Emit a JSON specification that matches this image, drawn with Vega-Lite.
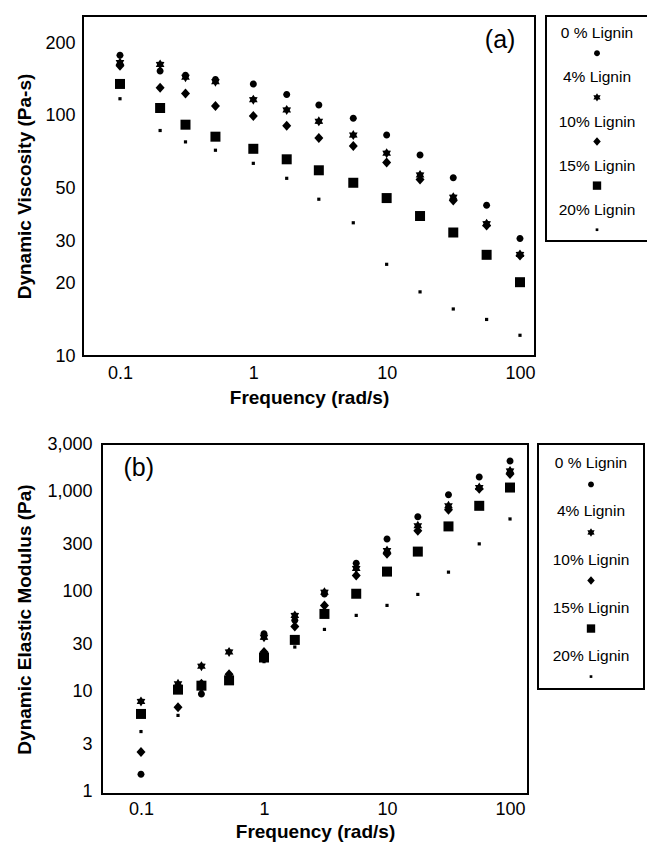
{
  "$schema": "https://vega.github.io/schema/vega-lite/v6.json",
  "padding": {"left": 5, "top": 15, "right": 0, "bottom": 0},
  "background": "white",
  "config": {
    "font": "Liberation Sans",
    "view": {"stroke": "black", "strokeWidth": 2},
    "axis": {"domain": false, "ticks": false, "grid": false, "labelFont": "Liberation Sans", "titleFont": "Liberation Sans", "labelFontSize": 18, "labelColor": "black", "titleFontSize": 19, "titleFontWeight": "bold", "titleColor": "black", "labelPadding": 8, "titlePadding": 6},
    "text": {"font": "Liberation Sans", "color": "black"},
    "point": {"size": 100, "filled": true, "opacity": 1, "color": "black"}
  },
  "datasets": {
    "visc": [
      {"f": 0.1, "s": "0 % Lignin", "v": 179}, {"f": 0.2, "s": "0 % Lignin", "v": 154}, {"f": 0.31, "s": "0 % Lignin", "v": 148}, {"f": 0.52, "s": "0 % Lignin", "v": 142}, {"f": 1, "s": "0 % Lignin", "v": 136}, {"f": 1.78, "s": "0 % Lignin", "v": 123}, {"f": 3.1, "s": "0 % Lignin", "v": 111}, {"f": 5.62, "s": "0 % Lignin", "v": 97.8}, {"f": 10, "s": "0 % Lignin", "v": 83.3}, {"f": 17.8, "s": "0 % Lignin", "v": 68.8}, {"f": 31.6, "s": "0 % Lignin", "v": 55.3}, {"f": 56.2, "s": "0 % Lignin", "v": 42.5}, {"f": 100, "s": "0 % Lignin", "v": 30.9},
      {"f": 0.1, "s": "4% Lignin", "v": 167}, {"f": 0.2, "s": "4% Lignin", "v": 164}, {"f": 0.31, "s": "4% Lignin", "v": 145}, {"f": 0.52, "s": "4% Lignin", "v": 139}, {"f": 1, "s": "4% Lignin", "v": 117}, {"f": 1.78, "s": "4% Lignin", "v": 106}, {"f": 3.1, "s": "4% Lignin", "v": 95}, {"f": 5.62, "s": "4% Lignin", "v": 83.3}, {"f": 10, "s": "4% Lignin", "v": 70}, {"f": 17.8, "s": "4% Lignin", "v": 56.8}, {"f": 31.6, "s": "4% Lignin", "v": 45.9}, {"f": 56.2, "s": "4% Lignin", "v": 35.6}, {"f": 100, "s": "4% Lignin", "v": 26.5},
      {"f": 0.1, "s": "10% Lignin", "v": 162}, {"f": 0.2, "s": "10% Lignin", "v": 131}, {"f": 0.31, "s": "10% Lignin", "v": 124}, {"f": 0.52, "s": "10% Lignin", "v": 110}, {"f": 1, "s": "10% Lignin", "v": 100}, {"f": 1.78, "s": "10% Lignin", "v": 91}, {"f": 3.1, "s": "10% Lignin", "v": 81}, {"f": 5.62, "s": "10% Lignin", "v": 75}, {"f": 10, "s": "10% Lignin", "v": 64}, {"f": 17.8, "s": "10% Lignin", "v": 54.4}, {"f": 31.6, "s": "10% Lignin", "v": 44.5}, {"f": 56.2, "s": "10% Lignin", "v": 35}, {"f": 100, "s": "10% Lignin", "v": 26.2},
      {"f": 0.1, "s": "15% Lignin", "v": 136}, {"f": 0.2, "s": "15% Lignin", "v": 108}, {"f": 0.31, "s": "15% Lignin", "v": 92}, {"f": 0.52, "s": "15% Lignin", "v": 82}, {"f": 1, "s": "15% Lignin", "v": 73}, {"f": 1.78, "s": "15% Lignin", "v": 66}, {"f": 3.1, "s": "15% Lignin", "v": 59.4}, {"f": 5.62, "s": "15% Lignin", "v": 52.7}, {"f": 10, "s": "15% Lignin", "v": 45.5}, {"f": 17.8, "s": "15% Lignin", "v": 38.3}, {"f": 31.6, "s": "15% Lignin", "v": 32.7}, {"f": 56.2, "s": "15% Lignin", "v": 26.4}, {"f": 100, "s": "15% Lignin", "v": 20.3},
      {"f": 0.1, "s": "20% Lignin", "v": 118}, {"f": 0.2, "s": "20% Lignin", "v": 87}, {"f": 0.31, "s": "20% Lignin", "v": 78}, {"f": 0.52, "s": "20% Lignin", "v": 72}, {"f": 1, "s": "20% Lignin", "v": 63.5}, {"f": 1.78, "s": "20% Lignin", "v": 55}, {"f": 3.1, "s": "20% Lignin", "v": 45}, {"f": 5.62, "s": "20% Lignin", "v": 35.9}, {"f": 10, "s": "20% Lignin", "v": 24.1}, {"f": 17.8, "s": "20% Lignin", "v": 18.5}, {"f": 31.6, "s": "20% Lignin", "v": 15.7}, {"f": 56.2, "s": "20% Lignin", "v": 14.2}, {"f": 100, "s": "20% Lignin", "v": 12.2}
    ],
    "mod": [
      {"f": 0.1, "s": "0 % Lignin", "v": 1.5}, {"f": 0.2, "s": "0 % Lignin", "v": 11}, {"f": 0.31, "s": "0 % Lignin", "v": 9.5}, {"f": 0.52, "s": "0 % Lignin", "v": 14}, {"f": 1, "s": "0 % Lignin", "v": 38}, {"f": 1.78, "s": "0 % Lignin", "v": 52}, {"f": 3.1, "s": "0 % Lignin", "v": 95}, {"f": 5.62, "s": "0 % Lignin", "v": 193}, {"f": 10, "s": "0 % Lignin", "v": 337}, {"f": 17.8, "s": "0 % Lignin", "v": 562}, {"f": 31.6, "s": "0 % Lignin", "v": 931}, {"f": 56.2, "s": "0 % Lignin", "v": 1407}, {"f": 100, "s": "0 % Lignin", "v": 2030},
      {"f": 0.1, "s": "4% Lignin", "v": 8}, {"f": 0.2, "s": "4% Lignin", "v": 12}, {"f": 0.31, "s": "4% Lignin", "v": 18}, {"f": 0.52, "s": "4% Lignin", "v": 25}, {"f": 1, "s": "4% Lignin", "v": 35}, {"f": 1.78, "s": "4% Lignin", "v": 58}, {"f": 3.1, "s": "4% Lignin", "v": 99}, {"f": 5.62, "s": "4% Lignin", "v": 171}, {"f": 10, "s": "4% Lignin", "v": 258}, {"f": 17.8, "s": "4% Lignin", "v": 457}, {"f": 31.6, "s": "4% Lignin", "v": 723}, {"f": 56.2, "s": "4% Lignin", "v": 1101}, {"f": 100, "s": "4% Lignin", "v": 1615},
      {"f": 0.1, "s": "10% Lignin", "v": 2.5}, {"f": 0.2, "s": "10% Lignin", "v": 7}, {"f": 0.31, "s": "10% Lignin", "v": 12}, {"f": 0.52, "s": "10% Lignin", "v": 15}, {"f": 1, "s": "10% Lignin", "v": 25}, {"f": 1.78, "s": "10% Lignin", "v": 45}, {"f": 3.1, "s": "10% Lignin", "v": 73}, {"f": 5.62, "s": "10% Lignin", "v": 145}, {"f": 10, "s": "10% Lignin", "v": 240}, {"f": 17.8, "s": "10% Lignin", "v": 407}, {"f": 31.6, "s": "10% Lignin", "v": 660}, {"f": 56.2, "s": "10% Lignin", "v": 1069}, {"f": 100, "s": "10% Lignin", "v": 1507},
      {"f": 0.1, "s": "15% Lignin", "v": 6}, {"f": 0.2, "s": "15% Lignin", "v": 10.5}, {"f": 0.31, "s": "15% Lignin", "v": 11.5}, {"f": 0.52, "s": "15% Lignin", "v": 13}, {"f": 1, "s": "15% Lignin", "v": 22}, {"f": 1.78, "s": "15% Lignin", "v": 33}, {"f": 3.1, "s": "15% Lignin", "v": 60}, {"f": 5.62, "s": "15% Lignin", "v": 95.5}, {"f": 10, "s": "15% Lignin", "v": 159}, {"f": 17.8, "s": "15% Lignin", "v": 252}, {"f": 31.6, "s": "15% Lignin", "v": 450}, {"f": 56.2, "s": "15% Lignin", "v": 723}, {"f": 100, "s": "15% Lignin", "v": 1101},
      {"f": 0.1, "s": "20% Lignin", "v": 4}, {"f": 0.2, "s": "20% Lignin", "v": 5.8}, {"f": 0.31, "s": "20% Lignin", "v": 10}, {"f": 0.52, "s": "20% Lignin", "v": 13}, {"f": 1, "s": "20% Lignin", "v": 20}, {"f": 1.78, "s": "20% Lignin", "v": 28}, {"f": 3.1, "s": "20% Lignin", "v": 42}, {"f": 5.62, "s": "20% Lignin", "v": 58}, {"f": 10, "s": "20% Lignin", "v": 73}, {"f": 17.8, "s": "20% Lignin", "v": 94}, {"f": 31.6, "s": "20% Lignin", "v": 157}, {"f": 56.2, "s": "20% Lignin", "v": 301}, {"f": 100, "s": "20% Lignin", "v": 534}
    ],
    "labA": [{"f": 71, "v": 207, "label": "(a)"}],
    "labB": [{"f": 0.096, "v": 1730, "label": "(b)"}],
    "legend": [{"s": "0 % Lignin"}, {"s": "4% Lignin"}, {"s": "10% Lignin"}, {"s": "15% Lignin"}, {"s": "20% Lignin"}],
    "blank": [{"t": ""}]
  },
  "spacing": 26,
  "vconcat": [
    {
      "spacing": 8,
      "hconcat": [
        {"width": 1, "height": 340, "view": {"stroke": null}, "data": {"name": "blank"}, "mark": {"type": "text"}, "encoding": {"text": {"field": "t"}}},
        {
          "width": 452, "height": 340,
          "layer": [
            {
              "data": {"name": "visc"},
              "mark": {"type": "point"},
              "encoding": {
                "x": {"field": "f", "type": "quantitative", "scale": {"type": "log", "domain": [0.0528, 129.6], "nice": false}, "axis": {"values": [0.1, 1, 10, 100], "format": "~g", "title": "Frequency (rad/s)"}},
                "y": {"field": "v", "type": "quantitative", "scale": {"type": "log", "domain": [10, 261], "nice": false}, "axis": {"values": [10, 20, 30, 50, 100, 200], "format": "~g", "title": "Dynamic Viscosity (Pa-s)", "titlePadding": 10}},
                "shape": {"field": "s", "type": "nominal", "scale": {"domain": ["0 % Lignin", "4% Lignin", "10% Lignin", "15% Lignin", "20% Lignin"], "range": ["M0.7,0A0.7,0.7 0 1,1 -0.7,0A0.7,0.7 0 1,1 0.7,0Z", "M0,-1L0.3,-0.52L0.866,-0.5L0.6,0L0.866,0.5L0.3,0.52L0,1L-0.3,0.52L-0.866,0.5L-0.6,0L-0.866,-0.5L-0.3,-0.52Z", "M0,-1L0.9,0L0,1L-0.9,0Z", "M-1,-1L1,-1L1,1L-1,1Z", "M-0.32,-0.32L0.32,-0.32L0.32,0.32L-0.32,0.32Z"]}, "legend": null}
              }
            },
            {
              "data": {"name": "labA"},
              "mark": {"type": "text", "fontSize": 25, "align": "center", "baseline": "middle"},
              "encoding": {"x": {"field": "f", "type": "quantitative"}, "y": {"field": "v", "type": "quantitative"}, "text": {"field": "label"}}
            }
          ]
        },
        {
          "width": 102, "height": 225,
          "data": {"name": "legend"},
          "encoding": {"y": {"field": "s", "type": "nominal", "sort": ["0 % Lignin", "4% Lignin", "10% Lignin", "15% Lignin", "20% Lignin"], "scale": {"type": "point", "padding": 0.55}, "axis": null}},
          "layer": [
            {"mark": {"type": "text", "fontSize": 15.5, "yOffset": -7, "align": "center", "baseline": "middle"}, "encoding": {"text": {"field": "s"}}},
            {"mark": {"type": "point", "yOffset": 13, "size": 70},
             "encoding": {
               "shape": {"field": "s", "type": "nominal", "scale": {"domain": ["0 % Lignin", "4% Lignin", "10% Lignin", "15% Lignin", "20% Lignin"], "range": ["M0.7,0A0.7,0.7 0 1,1 -0.7,0A0.7,0.7 0 1,1 0.7,0Z", "M0,-1L0.3,-0.52L0.866,-0.5L0.6,0L0.866,0.5L0.3,0.52L0,1L-0.3,0.52L-0.866,0.5L-0.6,0L-0.866,-0.5L-0.3,-0.52Z", "M0,-1L0.9,0L0,1L-0.9,0Z", "M-1,-1L1,-1L1,1L-1,1Z", "M-0.32,-0.32L0.32,-0.32L0.32,0.32L-0.32,0.32Z"]}, "legend": null}
             }}
          ]
        }
      ]
    },
    {
      "spacing": 8,
      "hconcat": [
        {"width": 1, "height": 350, "view": {"stroke": null}, "data": {"name": "blank"}, "mark": {"type": "text"}, "encoding": {"text": {"field": "t"}}},
        {
          "width": 426, "height": 350,
          "layer": [
            {
              "data": {"name": "mod"},
              "mark": {"type": "point"},
              "encoding": {
                "x": {"field": "f", "type": "quantitative", "scale": {"type": "log", "domain": [0.0482, 140], "nice": false}, "axis": {"values": [0.1, 1, 10, 100], "format": "~g", "title": "Frequency (rad/s)", "labelPadding": 6, "titlePadding": 4}},
                "y": {"field": "v", "type": "quantitative", "scale": {"type": "log", "domain": [0.95, 3000], "nice": false}, "axis": {"values": [1, 3, 10, 30, 100, 300, 1000, 3000], "format": ",", "title": "Dynamic Elastic Modulus (Pa)", "labelPadding": 10, "titlePadding": 12}},
                "shape": {"field": "s", "type": "nominal", "scale": {"domain": ["0 % Lignin", "4% Lignin", "10% Lignin", "15% Lignin", "20% Lignin"], "range": ["M0.7,0A0.7,0.7 0 1,1 -0.7,0A0.7,0.7 0 1,1 0.7,0Z", "M0,-1L0.3,-0.52L0.866,-0.5L0.6,0L0.866,0.5L0.3,0.52L0,1L-0.3,0.52L-0.866,0.5L-0.6,0L-0.866,-0.5L-0.3,-0.52Z", "M0,-1L0.9,0L0,1L-0.9,0Z", "M-1,-1L1,-1L1,1L-1,1Z", "M-0.32,-0.32L0.32,-0.32L0.32,0.32L-0.32,0.32Z"]}, "legend": null}
              }
            },
            {
              "data": {"name": "labB"},
              "mark": {"type": "text", "fontSize": 25, "align": "center", "baseline": "middle"},
              "encoding": {"x": {"field": "f", "type": "quantitative"}, "y": {"field": "v", "type": "quantitative"}, "text": {"field": "label"}}
            }
          ]
        },
        {
          "width": 106, "height": 245,
          "data": {"name": "legend"},
          "encoding": {"y": {"field": "s", "type": "nominal", "sort": ["0 % Lignin", "4% Lignin", "10% Lignin", "15% Lignin", "20% Lignin"], "scale": {"type": "point", "padding": 0.55}, "axis": null}},
          "layer": [
            {"mark": {"type": "text", "fontSize": 15.5, "yOffset": -7, "align": "center", "baseline": "middle"}, "encoding": {"text": {"field": "s"}}},
            {"mark": {"type": "point", "yOffset": 14, "size": 70},
             "encoding": {
               "shape": {"field": "s", "type": "nominal", "scale": {"domain": ["0 % Lignin", "4% Lignin", "10% Lignin", "15% Lignin", "20% Lignin"], "range": ["M0.7,0A0.7,0.7 0 1,1 -0.7,0A0.7,0.7 0 1,1 0.7,0Z", "M0,-1L0.3,-0.52L0.866,-0.5L0.6,0L0.866,0.5L0.3,0.52L0,1L-0.3,0.52L-0.866,0.5L-0.6,0L-0.866,-0.5L-0.3,-0.52Z", "M0,-1L0.9,0L0,1L-0.9,0Z", "M-1,-1L1,-1L1,1L-1,1Z", "M-0.32,-0.32L0.32,-0.32L0.32,0.32L-0.32,0.32Z"]}, "legend": null}
             }}
          ]
        }
      ]
    }
  ]
}
